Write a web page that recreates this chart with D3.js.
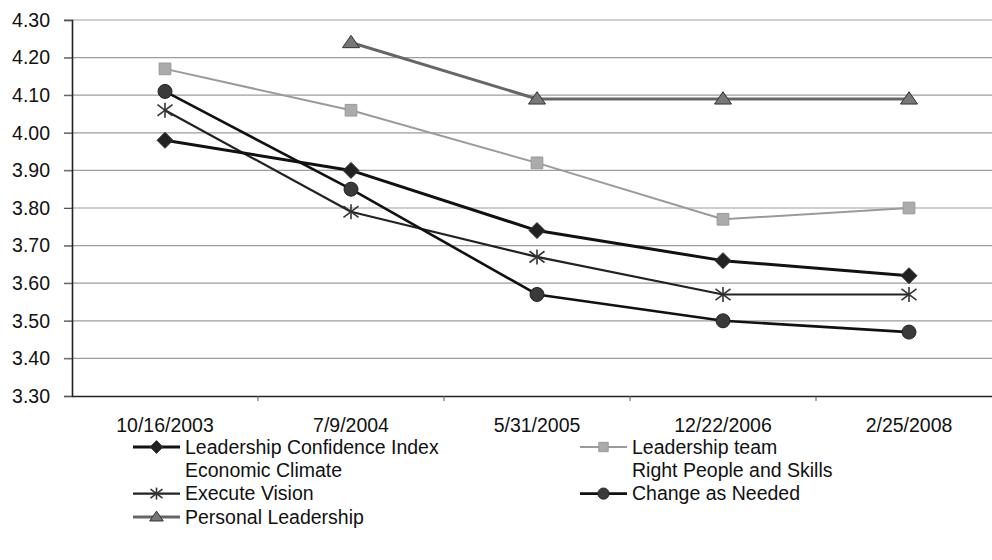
<!DOCTYPE html>
<html><head><meta charset="utf-8">
<script src="https://cdn.jsdelivr.net/npm/d3@7"></script>
<style>body{margin:0;background:#fff}svg{display:block}text{font-family:"Liberation Sans",Arial,sans-serif}</style>
</head><body><svg id="c" width="992" height="560"></svg>
<script>
const categories = ["10/16/2003","7/9/2004","5/31/2005","12/22/2006","2/25/2008"];
const yTicks = [3.30,3.40,3.50,3.60,3.70,3.80,3.90,4.00,4.10,4.20,4.30];
const leadershipConfidence = [3.98,3.90,3.74,3.66,3.62];
const leadershipTeam = [4.17,4.06,3.92,3.77,3.80];
const economicClimate = [null,null,null,null,null];
const rightPeople = [null,null,null,null,null];
const executeVision = [4.06,3.79,3.67,3.57,3.57];
const changeAsNeeded = [4.11,3.85,3.57,3.50,3.47];
const personalLeadership = [null,4.24,4.09,4.09,4.09];
const seriesNames = ["Leadership Confidence Index","Leadership team","Economic Climate","Right People and Skills","Execute Vision","Change as Needed","Personal Leadership"];

const series = [
  {name:seriesNames[0], values:leadershipConfidence, marker:"diamond", stroke:"#111", width:3, fill:"#222"},
  {name:seriesNames[1], values:leadershipTeam, marker:"square", stroke:"#9a9a9a", width:2, fill:"#ababab"},
  {name:seriesNames[2], values:economicClimate, marker:null},
  {name:seriesNames[3], values:rightPeople, marker:null},
  {name:seriesNames[4], values:executeVision, marker:"star", stroke:"#222", width:2.2, fill:"#333"},
  {name:seriesNames[5], values:changeAsNeeded, marker:"circle", stroke:"#111", width:2.6, fill:"#3a3a3a"},
  {name:seriesNames[6], values:personalLeadership, marker:"triangle", stroke:"#666", width:3, fill:"#777"}
];

const svg = d3.select("#c");
const L = 72, T = 20, B = 396, R = 1002;
const x = d3.scaleBand().domain(categories).range([L,R]);
const y = d3.scaleLinear().domain([3.30,4.30]).range([B,T]);
const cx = c => x(c) + x.bandwidth()/2;

// gridlines
svg.append("g").selectAll("line").data(yTicks.filter(v=>v>3.3)).join("line")
  .attr("x1",L-8).attr("x2",R).attr("y1",d=>y(d)).attr("y2",d=>y(d))
  .attr("stroke","#9d9d9d").attr("stroke-width",1.2);

// y axis
const ya = svg.append("g").attr("transform",`translate(${L},0)`)
  .call(d3.axisLeft(y).tickValues(yTicks).tickFormat(d3.format(".2f")).tickSize(8).tickPadding(14));
ya.select(".domain").attr("stroke","#222").attr("stroke-width",1.6);
ya.selectAll(".tick line").attr("stroke","#555");
ya.selectAll("text").attr("font-size",19.5).attr("fill","#111").attr("font-family",'"Liberation Sans",Arial,sans-serif');

// x axis
const xa = svg.append("g").attr("transform",`translate(0,${B})`)
  .call(d3.axisBottom(x).tickSize(0).tickPadding(22));
xa.select(".domain").attr("stroke","#222").attr("stroke-width",1.6);
xa.selectAll("text").attr("font-size",19.5).attr("fill","#111").attr("font-family",'"Liberation Sans",Arial,sans-serif');
svg.append("g").selectAll("line").data(categories).join("line")
  .attr("x1",d=>x(d)+x.bandwidth()).attr("x2",d=>x(d)+x.bandwidth())
  .attr("y1",B).attr("y2",B+5).attr("stroke","#555");

const shapes = {
  diamond: s => `M0,${-s}L${s},0L0,${s}L${-s},0Z`,
  square: s => `M${-s*0.78},${-s*0.78}H${s*0.78}V${s*0.78}H${-s*0.78}Z`,
  triangle: s => `M0,${-s*0.85}L${s},${s*0.6}L${-s},${s*0.6}Z`
};

function drawMarker(g, s, px, py, k){
  k = k || 1;
  if(s.marker==="star"){
    const r=7.5*k;
    const gg=g.append("g").attr("transform",`translate(${px},${py})`).attr("stroke","#333").attr("stroke-width",1.6);
    gg.append("line").attr("x1",-r).attr("x2",r).attr("y1",-r*0.75).attr("y2",r*0.75);
    gg.append("line").attr("x1",-r).attr("x2",r).attr("y1",r*0.75).attr("y2",-r*0.75);
    gg.append("line").attr("x1",0).attr("x2",0).attr("y1",-r).attr("y2",r);
    return;
  }
  if(s.marker==="circle"){
    g.append("circle").attr("cx",px).attr("cy",py).attr("r",7*k)
      .attr("fill",s.fill).attr("stroke","#222").attr("stroke-width",1);
    return;
  }
  const sz = {diamond:8, square:7.5, triangle:8.5}[s.marker]*k;
  g.append("path").attr("d",shapes[s.marker](sz))
    .attr("transform",`translate(${px},${py})`)
    .attr("fill",s.fill).attr("stroke",s.marker==="square"?"#999":"#333").attr("stroke-width",1);
}

const line = d3.line().defined(d=>d.v!=null).x(d=>cx(d.c)).y(d=>y(d.v));
const plotOrder = [1,6,4,0,5];
plotOrder.forEach(i=>{
  const s = series[i];
  const pts = categories.map((c,j)=>({c, v:s.values[j]}));
  svg.append("path").datum(pts).attr("d",line).attr("fill","none")
    .attr("stroke",s.stroke).attr("stroke-width",s.width).attr("stroke-linejoin","round");
  const g = svg.append("g");
  pts.filter(p=>p.v!=null).forEach(p=>drawMarker(g,s,cx(p.c),y(p.v)));
});

// legend
const legCols = [133, 580];
const legY0 = 447, legDy = 23.3;
series.forEach((s,i)=>{
  const col = i%2, row = Math.floor(i/2);
  const lx = legCols[col], ly = legY0 + row*legDy;
  const g = svg.append("g");
  if(s.marker){
    g.append("line").attr("x1",lx).attr("x2",lx+47).attr("y1",ly).attr("y2",ly)
      .attr("stroke",s.stroke).attr("stroke-width",s.width);
    drawMarker(g, s, lx+23.5, ly, 0.8);
  }
  g.append("text").attr("x",lx+52).attr("y",ly).attr("dy","0.35em")
    .attr("font-size",19.5).attr("fill","#111").text(s.name);
});
</script></body></html>
